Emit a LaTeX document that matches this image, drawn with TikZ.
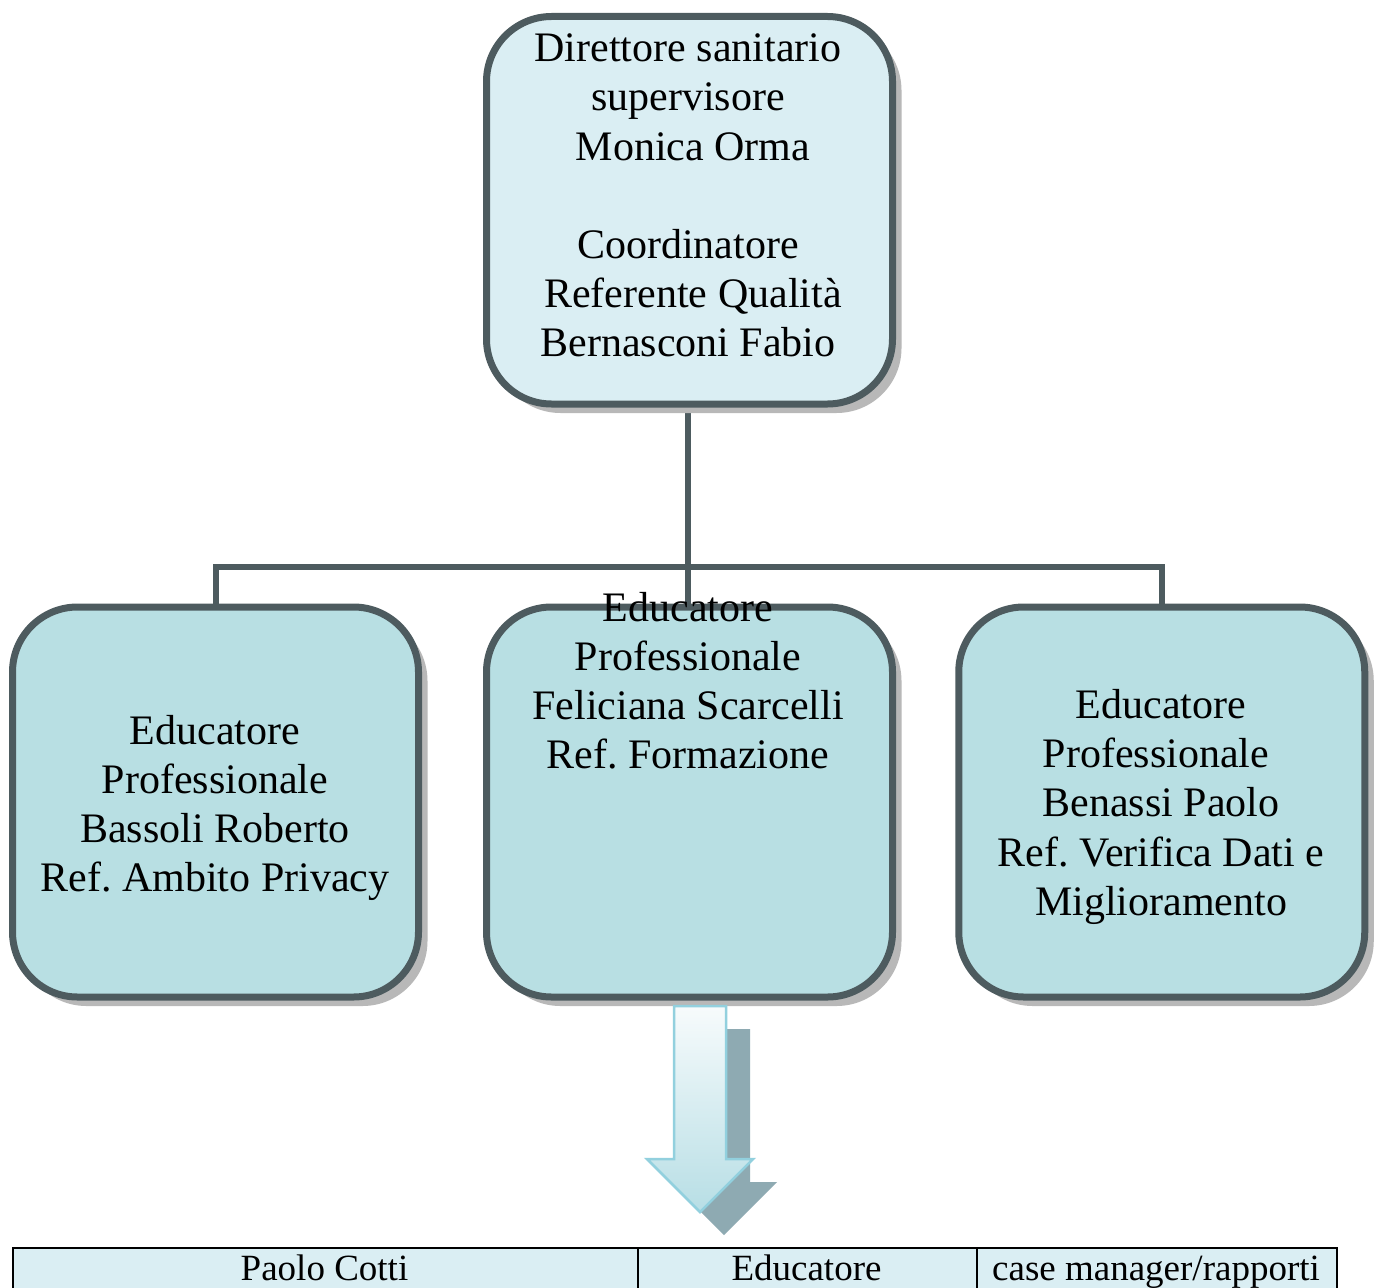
\documentclass[tikz,border=0pt]{standalone}
\usepackage{fontspec}
\setmainfont{Liberation Serif}
\usetikzlibrary{shadows}
\frenchspacing
\definecolor{strokec}{HTML}{4D5B5F}
\definecolor{lightfill}{HTML}{DAEEF3}
\definecolor{boxfill}{HTML}{B8DFE3}
\definecolor{arrowedge}{HTML}{92D0DE}
\definecolor{arrowtop}{HTML}{F7FBFC}
\definecolor{arrowbot}{HTML}{B7DEE5}
\definecolor{arrowshadow}{HTML}{8EAAB2}
\tikzset{
  orgbox/.style={draw=strokec, line width=7pt, rounded corners=65pt, minimum width=406pt,
    minimum height=388pt, inner sep=0pt,
    drop shadow={shadow xshift=9pt, shadow yshift=-9pt, fill=black!28, opacity=1}},
  conn/.style={draw=strokec, line width=6pt},
  linetext/.style={anchor=base, inner sep=0pt, font=\fontsize{42}{49}\selectfont},
  celltext/.style={anchor=base, inner sep=0pt, font=\fontsize{37}{43}\selectfont},
  cell/.style={draw=black, line width=2pt, fill=lightfill, anchor=north west, inner sep=0pt}
}
\begin{document}
\begin{tikzpicture}[x=1pt,y=-1pt]
\useasboundingbox (0,0) rectangle (1383,1287);
\fill[white] (0,0) rectangle (1383,1287);
\clip (0,0) rectangle (1383,1287);
% connectors
\coordinate (bus) at (688,567);
\coordinate (topbot) at (688,404);
\draw[conn] (topbot) -- (bus);
\draw[conn] (215.5,607) |- (bus) -| (1161.75,607);
\draw[conn] (bus) -- (688,607);
% boxes
\node[orgbox, fill=lightfill, minimum height=387.5pt] (top) at (689.5,210.25) {};
\node[orgbox, fill=boxfill, minimum height=390pt] (left) at (215.5,802) {};
\node[orgbox, fill=boxfill, minimum height=390pt] (mid) at (689.5,802) {};
\node[orgbox, fill=boxfill, minimum height=390pt] (right) at (1161.75,802) {};
% texts top
\node[linetext] (t1) at (688,62) {Direttore sanitario};
\node[linetext] (t2) at (688,111) {supervisore};
\node[linetext] (t3) at (693,160) {Monica Orma};
\node[linetext] (t4) at (688,258) {Coordinatore};
\node[linetext] (t5) at (693,307) {Referente Qualità};
\node[linetext] (t6) at (688,356) {Bernasconi Fabio};
% left
\node[linetext] (l1) at (215,744) {Educatore};
\node[linetext] (l2) at (215,793) {Professionale};
\node[linetext] (l3) at (215,842) {Bassoli Roberto};
\node[linetext] (l4) at (215,891) {Ref. Ambito Privacy};
% middle
\node[linetext] (m1) at (688,621) {Educatore};
\node[linetext] (m2) at (688,670) {Professionale};
\node[linetext] (m3) at (688,719) {Feliciana Scarcelli};
\node[linetext] (m4) at (688,768) {Ref. Formazione};
% right
\node[linetext] (r1) at (1161,718) {Educatore};
\node[linetext] (r2) at (1156,767) {Professionale};
\node[linetext] (r3) at (1161,816) {Benassi Paolo};
\node[linetext] (r4) at (1161,866) {Ref. Verifica Dati e};
\node[linetext] (r5) at (1161,915) {Miglioramento};
% arrow shadow
\fill[arrowshadow, shift={(24,23)}] (674,1006) -- (726,1006) -- (726,1159) -- (753,1159) -- (700,1212) -- (647,1159) -- (674,1159) -- cycle;
% arrow
\draw[arrowedge, line width=2.5pt, top color=arrowtop, bottom color=arrowbot, line join=miter]
  (674,1006) -- (726,1006) -- (726,1159) -- (753,1159) -- (700,1212) -- (647,1159) -- (674,1159) -- cycle;
% table
\node[cell, minimum width=625pt, minimum height=90pt] (c1) at (12,1247) {};
\node[cell, minimum width=339pt, minimum height=90pt] (c2) at (637,1247) {};
\node[cell, minimum width=360pt, minimum height=90pt] (c3) at (976,1247) {};
\node[celltext] (ct1) at (324.5,1280) {Paolo Cotti};
\node[celltext] (ct2) at (806.5,1280) {Educatore};
\node[celltext] (ct3) at (1156,1280) {case manager/rapporti};
\end{tikzpicture}
\end{document}
